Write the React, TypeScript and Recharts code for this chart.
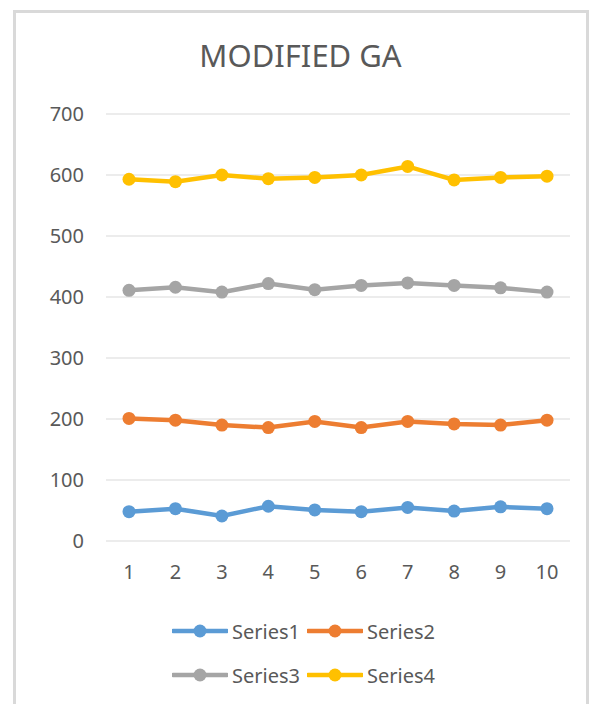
import React from "react";
import { LineChart, Line, XAxis, YAxis, CartesianGrid, Legend } from "recharts";

const categories = ["1", "2", "3", "4", "5", "6", "7", "8", "9", "10"];
const series1 = [48, 53, 41, 57, 51, 48, 55, 49, 56, 53];
const series2 = [201, 198, 190, 186, 196, 186, 196, 192, 190, 198];
const series3 = [411, 416, 408, 422, 412, 419, 423, 419, 415, 408];
const series4 = [593, 589, 600, 594, 596, 600, 614, 592, 596, 598];
const yTicks = [0, 100, 200, 300, 400, 500, 600, 700];
const seriesNames = ["Series1", "Series2", "Series3", "Series4"];
const seriesColors = ["#5B9BD5", "#ED7D31", "#A5A5A5", "#FFC000"];
const seriesValues = [series1, series2, series3, series4];

const data = categories.map((c, i) => {
  const row: any = { x: c };
  seriesNames.forEach((n, k) => {
    row[n] = seriesValues[k][i];
  });
  return row;
});

const FONT = "'Noto Sans', 'Open Sans', sans-serif";
const TEXT = "#595959";

const LegendContent = (props: any) => {
  const payload = props.payload || [];
  return (
    <div style={{ position: "relative", width: 593, height: 90 }}>
      {payload.map((p: any, i: number) => (
        <div
          key={p.value}
          style={{
            position: "absolute",
            left: 172 + (i % 2) * 135,
            top: 7 + Math.floor(i / 2) * 44,
            height: 24,
            display: "flex",
            alignItems: "center",
            fontFamily: FONT,
            fontSize: 20,
            color: TEXT,
            whiteSpace: "nowrap",
          }}
        >
          <svg width={56} height={16} style={{ display: "block" }}>
            <line x1={1} y1={8} x2={55} y2={8} stroke={p.color} strokeWidth={4.5} strokeLinecap="round" />
            <circle cx={28} cy={8} r={6.5} fill={p.color} />
          </svg>
          <span style={{ marginLeft: 4 }}>{p.value}</span>
        </div>
      ))}
    </div>
  );
};

export default function App() {
  return (
    <div
      style={{
        position: "absolute",
        left: 0,
        top: 0,
        width: 593,
        height: 704,
        background: "#ffffff",
        fontFamily: FONT,
        overflow: "hidden",
      }}
    >
      <div
        style={{
          position: "absolute",
          left: 13,
          top: 10,
          width: 576,
          height: 700,
          boxSizing: "border-box",
          borderTop: "3px solid #d9d9d9",
          borderLeft: "3px solid #d9d9d9",
          borderRight: "3px solid #d9d9d9",
        }}
      />
      <svg width={593} height={90} style={{ position: "absolute", left: 0, top: 0 }}>
        <text
          x={300.5}
          y={66.5}
          textAnchor="middle"
          fontFamily={FONT}
          fontSize={31}
          fill={TEXT}
        >
          MODIFIED GA
        </text>
      </svg>
      <div style={{ position: "absolute", left: 0, top: 0 }}>
        <LineChart
          width={593}
          height={704}
          data={data}
          margin={{ top: 114, right: 23, bottom: 133, left: 0 }}
        >
          <CartesianGrid vertical={false} stroke="#d9d9d9" strokeWidth={1} />
          <XAxis
            dataKey="x"
            height={30}
            padding={{ left: 23, right: 23 }}
            axisLine={false}
            tickLine={false}
            tickMargin={18}
            tick={{ fill: TEXT, fontSize: 20, fontFamily: FONT }}
            interval={0}
          />
          <YAxis
            width={106}
            domain={[0, 700]}
            ticks={yTicks}
            axisLine={false}
            tickLine={false}
            tickMargin={16}
            tick={{ fill: TEXT, fontSize: 20, fontFamily: FONT }}
          />
          <Legend
            layout="horizontal"
            verticalAlign="middle"
            align="center"
            wrapperStyle={{ position: "absolute", top: 612, left: 0, width: 593 }}
            content={<LegendContent />}
          />
          {seriesNames.map((n, k) => (
            <Line
              key={n}
              type="linear"
              dataKey={n}
              name={n}
              stroke={seriesColors[k]}
              strokeWidth={4.5}
              dot={{ r: 6.5, fill: seriesColors[k], stroke: "none" }}
              activeDot={false}
              isAnimationActive={false}
            />
          ))}
        </LineChart>
      </div>
    </div>
  );
}
